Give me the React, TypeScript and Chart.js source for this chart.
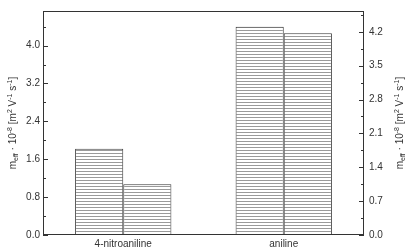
import React, { useEffect, useRef } from "react";
import { Chart, registerables } from "chart.js";

Chart.register(...registerables);

const categories = ["4-nitroaniline", "aniline"];
const seriesA = [1.82, 4.4];
const seriesB = [1.07, 4.26];
const leftTicks = [0, 0.8, 1.6, 2.4, 3.2, 4.0];
const rightTicks = [0, 0.7, 1.4, 2.1, 2.8, 3.5, 4.2];
const leftMax = 4.73;
const rightMax = 4.63;
const FONT = "'Liberation Sans', Arial, sans-serif";

function makePattern(): CanvasPattern | string {
  const c = document.createElement("canvas");
  c.width = 4;
  c.height = 3;
  const g = c.getContext("2d");
  if (!g) return "#fff";
  g.fillStyle = "#ffffff";
  g.fillRect(0, 0, 4, 3);
  g.fillStyle = "#9a9a9a";
  g.fillRect(0, 0, 4, 1);
  const p = g.createPattern(c, "repeat");
  return p || "#fff";
}

function drawTitle(ctx: CanvasRenderingContext2D, cx: number, cy: number) {
  const parts: [string, number][] = [
    ["m", 0],
    ["eff", 1],
    [" \u00b7 10", 0],
    ["-8", -1],
    [" [m", 0],
    ["2", -1],
    [" V", 0],
    ["-1", -1],
    [" s", 0],
    ["-1", -1],
    ["]", 0],
  ];
  const big = "10px " + FONT;
  const small = "7px " + FONT;
  ctx.save();
  ctx.translate(cx, cy);
  ctx.rotate(-Math.PI / 2);
  let w = 0;
  for (const [t, k] of parts) {
    ctx.font = k === 0 ? big : small;
    w += ctx.measureText(t).width;
  }
  let x = -w / 2;
  ctx.fillStyle = "#333";
  ctx.textBaseline = "alphabetic";
  ctx.textAlign = "left";
  for (const [t, k] of parts) {
    ctx.font = k === 0 ? big : small;
    const dy = k === 0 ? 0 : k > 0 ? 2.5 : -4;
    ctx.fillText(t, x, 3.5 + dy);
    x += ctx.measureText(t).width;
  }
  ctx.restore();
}

const framePlugin = {
  id: "frame",
  afterDraw(chart: any) {
    const ctx: CanvasRenderingContext2D = chart.ctx;
    const a = chart.chartArea;
    ctx.save();
    ctx.strokeStyle = "#333";
    ctx.lineWidth = 1;
    ctx.strokeRect(a.left + 0.5, a.top + 0.5, a.right - a.left - 1, a.bottom - a.top - 1);
    const yl = chart.scales.y;
    const yr = chart.scales.y2;
    ctx.beginPath();
    for (let i = 0; i < leftTicks.length; i++) {
      const v = leftTicks[i];
      const p = Math.round(yl.getPixelForValue(v)) + 0.5;
      ctx.moveTo(a.left, p);
      ctx.lineTo(a.left + 5, p);
      const m = v + 0.4;
      if (m < leftMax) {
        const pm = Math.round(yl.getPixelForValue(m)) + 0.5;
        ctx.moveTo(a.left, pm);
        ctx.lineTo(a.left + 3, pm);
      }
    }
    for (let i = 0; i < rightTicks.length; i++) {
      const v = rightTicks[i];
      const p = Math.round(yr.getPixelForValue(v)) + 0.5;
      ctx.moveTo(a.right, p);
      ctx.lineTo(a.right - 5, p);
      const m = v + 0.35;
      if (m < rightMax) {
        const pm = Math.round(yr.getPixelForValue(m)) + 0.5;
        ctx.moveTo(a.right, pm);
        ctx.lineTo(a.right - 3, pm);
      }
    }
    ctx.stroke();
    ctx.restore();
    const cy = (a.top + a.bottom) / 2;
    drawTitle(ctx, 12, cy);
    drawTitle(ctx, 399, cy);
  },
};

export default function App() {
  const ref = useRef<HTMLCanvasElement | null>(null);
  useEffect(() => {
    document.body.style.margin = "0";
    if (!ref.current) return;
    const pattern = makePattern();
    const tickFont = { family: FONT, size: 10 };
    const chart = new Chart(ref.current, {
      type: "bar",
      data: {
        labels: categories,
        datasets: [
          {
            data: seriesA,
            backgroundColor: pattern as any,
            borderColor: "#3a3a3a",
            borderWidth: 1,
            yAxisID: "y",
          },
          {
            data: seriesB,
            backgroundColor: pattern as any,
            borderColor: "#3a3a3a",
            borderWidth: 1,
            yAxisID: "y",
          },
        ],
      },
      options: {
        animation: false,
        responsive: false,
        maintainAspectRatio: false,
        layout: { padding: { top: 1, left: 0, right: 0, bottom: 0 } },
        plugins: { legend: { display: false }, tooltip: { enabled: false } },
        datasets: { bar: { categoryPercentage: 0.6, barPercentage: 1 } },
        scales: {
          x: {
            grid: { display: false, drawTicks: false },
            border: { display: false },
            ticks: { color: "#333", font: tickFont, padding: 3 },
            afterFit: (s: any) => {
              s.height = 13;
            },
          },
          y: {
            position: "left",
            min: 0,
            max: leftMax,
            grid: { display: false, drawTicks: false },
            border: { display: false },
            ticks: {
              color: "#333",
              font: tickFont,
              padding: 3,
              callback: (v: any) => Number(v).toFixed(1),
            },
            afterBuildTicks: (s: any) => {
              s.ticks = leftTicks.map((v) => ({ value: v }));
            },
            afterFit: (s: any) => {
              s.width = 43;
            },
          },
          y2: {
            position: "right",
            min: 0,
            max: rightMax,
            grid: { display: false, drawTicks: false },
            border: { display: false },
            ticks: {
              color: "#333",
              font: tickFont,
              padding: 5,
              callback: (v: any) => Number(v).toFixed(1),
            },
            afterBuildTicks: (s: any) => {
              s.ticks = rightTicks.map((v) => ({ value: v }));
            },
            afterFit: (s: any) => {
              s.width = 46;
            },
          },
        },
      },
      plugins: [framePlugin],
    });
    return () => chart.destroy();
  }, []);
  return (
    <div style={{ width: 410, height: 248 }}>
      <canvas ref={ref} width={410} height={248} style={{ display: "block" }} />
    </div>
  );
}
